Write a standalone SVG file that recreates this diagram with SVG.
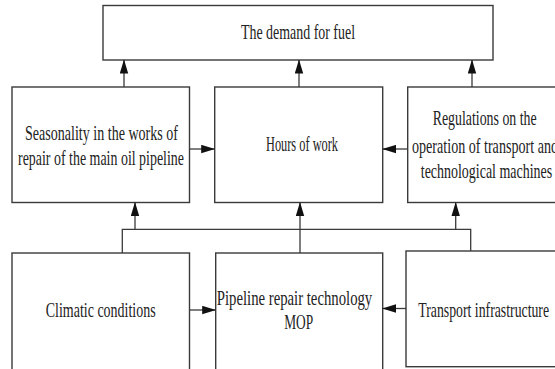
<svg xmlns="http://www.w3.org/2000/svg" width="555" height="369" viewBox="0 0 555 369">
<style>
.box{fill:#fff;stroke:#3a3a3a;stroke-width:1.4}
.t{font-family:"Liberation Serif","Times New Roman",serif;font-size:21px;fill:#222;text-anchor:middle}
.c{fill:none;stroke:#3a3a3a;stroke-width:1.3}
</style>
<defs>
<marker id="ah" markerWidth="14" markerHeight="9" refX="13.5" refY="4.5" orient="auto" markerUnits="userSpaceOnUse">
<path d="M0,0.3 L14,4.5 L0,8.7 Z" fill="#111"/>
</marker>
</defs>
<rect width="555" height="369" fill="#fff"/>
<g id="demand"><rect class="box" x="103" y="5.5" width="390" height="54.5"/><text class="t" x="298" y="39" textLength="114" lengthAdjust="spacingAndGlyphs">The demand for fuel</text></g>
<g id="seasonality"><rect class="box" x="12" y="87" width="177.5" height="115.5"/><text class="t" x="101.5" y="139.5" textLength="153" lengthAdjust="spacingAndGlyphs">Seasonality in the works of</text><text class="t" x="101" y="165" textLength="166" lengthAdjust="spacingAndGlyphs">repair of the main oil pipeline</text></g>
<g id="hours"><rect class="box" x="214.7" y="87" width="168" height="115.5"/><text class="t" x="302" y="151" textLength="72" lengthAdjust="spacingAndGlyphs">Hours of work</text></g>
<g id="regulations"><rect class="box" x="407.7" y="87" width="157" height="115.5"/><text class="t" x="484.7" y="125" textLength="104" lengthAdjust="spacingAndGlyphs">Regulations on the</text><text class="t" x="485" y="152.5" textLength="146" lengthAdjust="spacingAndGlyphs">operation of transport and</text><text class="t" x="486.5" y="178" textLength="131.5" lengthAdjust="spacingAndGlyphs">technological machines</text></g>
<g id="climatic"><rect class="box" x="12" y="253" width="177.5" height="125"/><text class="t" x="100.7" y="317" textLength="110" lengthAdjust="spacingAndGlyphs">Climatic conditions</text></g>
<g id="technology"><rect class="box" x="215.7" y="253" width="167" height="125"/><text class="t" x="294.5" y="305" textLength="155.5" lengthAdjust="spacingAndGlyphs">Pipeline repair technology</text><text class="t" x="298.7" y="329" textLength="29" lengthAdjust="spacingAndGlyphs">MOP</text></g>
<g id="infrastructure"><rect class="box" x="406" y="251" width="160" height="115.7"/><text class="t" x="483.7" y="316.5" textLength="130.7" lengthAdjust="spacingAndGlyphs">Transport infrastructure</text></g>
<g id="connectors">
<line class="c" x1="124" y1="87" x2="124" y2="60" marker-end="url(#ah)"/>
<line class="c" x1="299" y1="87" x2="299" y2="60" marker-end="url(#ah)"/>
<line class="c" x1="472" y1="87" x2="472" y2="60" marker-end="url(#ah)"/>
<line class="c" x1="189.5" y1="149" x2="214.7" y2="149" marker-end="url(#ah)"/>
<line class="c" x1="407.7" y1="149" x2="382.7" y2="149" marker-end="url(#ah)"/>
<line class="c" x1="189.5" y1="310" x2="215.7" y2="310" marker-end="url(#ah)"/>
<line class="c" x1="406" y1="308.5" x2="382.7" y2="308.5" marker-end="url(#ah)"/>
<polyline class="c" points="122.3,253 122.3,229.3 470.7,229.3 470.7,251"/>
<line class="c" x1="135" y1="229.3" x2="135" y2="202.5" marker-end="url(#ah)"/>
<line class="c" x1="300" y1="253" x2="300" y2="202.5" marker-end="url(#ah)"/>
<line class="c" x1="455.7" y1="229.3" x2="455.7" y2="202.5" marker-end="url(#ah)"/>
</g>
</svg>
